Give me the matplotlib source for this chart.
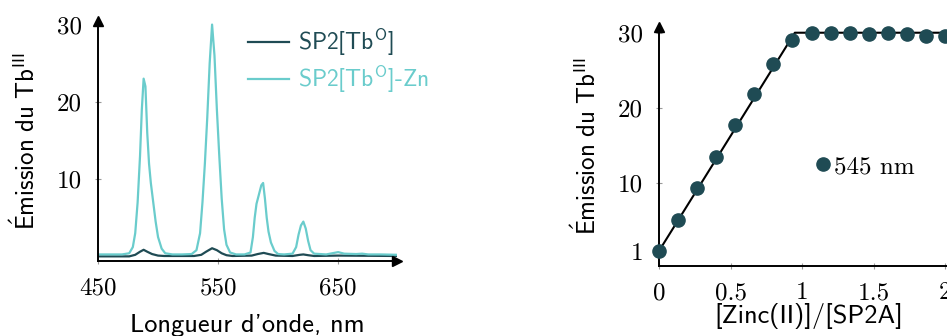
import matplotlib
matplotlib.use("Agg")
import matplotlib.pyplot as plt

plt.rcParams['mathtext.fontset'] = 'cm'
plt.rcParams['axes.unicode_minus'] = False

# ---------------- data ----------------
# Spectrum without zinc (dark)
wl_tb = [450, 476, 481, 485, 488, 491, 495, 500, 505, 530, 536, 540, 545, 549, 553,
         557, 562, 578, 583, 588, 592, 598, 612, 618, 621, 625, 630, 650, 700]
em_tb = [0.0, 0.0, 0.2, 0.6, 0.85, 0.6, 0.3, 0.1, 0.05, 0.05, 0.2, 0.6, 1.05, 0.8, 0.4,
         0.15, 0.05, 0.1, 0.3, 0.45, 0.3, 0.1, 0.05, 0.2, 0.25, 0.15, 0.05, 0.1, 0.05]

# Spectrum with zinc (light)
wl_zn = [450, 470, 476, 479, 481, 483, 485, 486.5, 488, 489.5, 491, 492.5, 494, 496, 498,
         500, 503, 506, 512,
         520, 528, 532, 535, 537, 539, 541, 543, 545, 547, 549, 551, 553, 555, 557, 560, 565,
         572, 577, 579, 580.5, 582, 584, 586, 587.5, 589, 590.5, 592, 594, 597, 600,
         605, 612, 615, 617, 619, 621, 623, 625, 627, 630, 640,
         650, 655, 665, 670, 675, 685, 700]
em_zn = [0.25, 0.25, 0.4, 1.2, 3.0, 7.0, 13.0, 19.0, 23.0, 22.0, 16.0, 12.0, 9.5, 7.0, 4.5,
         2.5, 1.0, 0.4, 0.25,
         0.25, 0.3, 0.8, 3.0, 7.0, 12.0, 18.0, 25.0, 30.0, 26.0, 19.0, 13.0, 7.5, 3.5, 1.5, 0.5, 0.25,
         0.25, 0.5, 2.5, 5.0, 6.8, 8.0, 9.2, 9.5, 7.5, 5.0, 3.2, 1.8, 0.7, 0.3,
         0.25, 0.35, 1.2, 2.8, 4.0, 4.5, 3.6, 2.0, 0.8, 0.35, 0.25,
         0.55, 0.35, 0.3, 0.35, 0.25, 0.25, 0.2]

spec_xticks = [450, 550, 650]
spec_yticks = [10, 20, 30]

# Titration
ratio = [0, 0.133, 0.267, 0.4, 0.533, 0.667, 0.8, 0.933, 1.067, 1.2, 1.333,
         1.467, 1.6, 1.733, 1.867, 2.0]
em545 = [1.0, 5.1, 9.3, 13.5, 17.8, 21.8, 25.8, 29.0, 30.0, 29.9, 29.9,
         29.8, 29.9, 29.8, 29.6, 29.6]
fit_x = [0, 0.95, 2.0]
fit_y = [1.0, 30.0, 30.0]
tit_xticks = [0, 0.5, 1, 1.5, 2]
tit_xticklabels = ['0', '0.5', '1', '1.5', '2']
tit_yticks = [1, 10, 20, 30]

YLABEL = r'$\mathsf{\acute{E}mission\ du\ Tb}^{\mathsf{III}}$'

# ---------------- style ----------------
DARK = '#1f4b54'
LIGHT = '#6acccc'
FS = 18
LFS = 19
SANS = ['cmss10', 'DejaVu Sans']
SERIF = ['cmr10', 'DejaVu Serif']

fig = plt.figure(figsize=(9.47, 3.36), dpi=100)

W, H = 947.0, 336.0


def setup_axes(ax):
    for s in ['top', 'right']:
        ax.spines[s].set_visible(False)
    for s in ['left', 'bottom']:
        ax.spines[s].set_linewidth(1.4)
        ax.spines[s].set_color('black')
    ax.tick_params(direction='inout', length=5, width=0.8, color='#9a9a9a',
                   labelsize=FS, pad=9)
    for lab in ax.get_xticklabels() + ax.get_yticklabels():
        lab.set_fontfamily(SERIF)
    ax.plot(1, 0, marker='>', color='black', markersize=7,
            transform=ax.transAxes, clip_on=False)
    ax.plot(0, 1, marker='^', color='black', markersize=7,
            transform=ax.transAxes, clip_on=False)


# ---------- left: spectra ----------
ax1 = fig.add_axes([98 / W, (H - 261) / H, 299 / W, (261 - 20.7) / H])
ax1.plot(wl_tb, em_tb, color=DARK, lw=1.6, label=r'SP2[Tb$^{\mathsf{O}}$]')
ax1.plot(wl_zn, em_zn, color=LIGHT, lw=1.6, label=r'SP2[Tb$^{\mathsf{O}}$]-Zn')
ax1.set_xlim(450, 699)
ax1.set_ylim(-0.6, 30.5)
ax1.set_xticks(spec_xticks)
ax1.set_yticks(spec_yticks)
setup_axes(ax1)
ax1.set_xlabel("Longueur d'onde, nm", fontsize=LFS, family=SANS, va='baseline')
ax1.xaxis.set_label_coords(0.5, -0.294)
ax1.set_ylabel(YLABEL, fontsize=18, va='center')
ax1.yaxis.set_label_coords(-0.244, 0.5)
ax1.legend(loc='upper left', bbox_to_anchor=(0.502, 0.975), frameon=False,
           borderpad=0, borderaxespad=0, handlelength=1.75, handletextpad=0.35,
           labelspacing=0.22, labelcolor='linecolor',
           prop={'family': SANS, 'size': 17})

# ---------- right: titration ----------
ax2 = fig.add_axes([659 / W, (H - 266) / H, 300.3 / W, (266 - 26.7) / H])
ax2.plot(fit_x, fit_y, color='black', lw=1.5, zorder=2)
ax2.plot(ratio, em545, linestyle='none', marker='o', markersize=9.5, color=DARK,
         clip_on=False, zorder=3, label='545 nm')
ax2.set_xlim(0, 2.1)
ax2.set_ylim(-1, 30.8)
ax2.set_xticks(tit_xticks)
ax2.set_xticklabels(tit_xticklabels)
ax2.set_yticks(tit_yticks)
setup_axes(ax2)
ax2.set_xlabel('[Zinc(II)]/[SP2A]', fontsize=LFS, family=SANS, va='baseline')
ax2.xaxis.set_label_coords(0.5, -0.237)
ax2.set_ylabel(YLABEL, fontsize=18, va='center')
ax2.yaxis.set_label_coords(-0.243, 0.5)
ax2.legend(loc='center left', bbox_to_anchor=(0.526, 0.414), frameon=False,
           borderpad=0, borderaxespad=0, handlelength=0.5, handletextpad=0.2,
           numpoints=1, prop={'family': SERIF, 'size': FS})

fig.savefig('out.png', dpi=100)
